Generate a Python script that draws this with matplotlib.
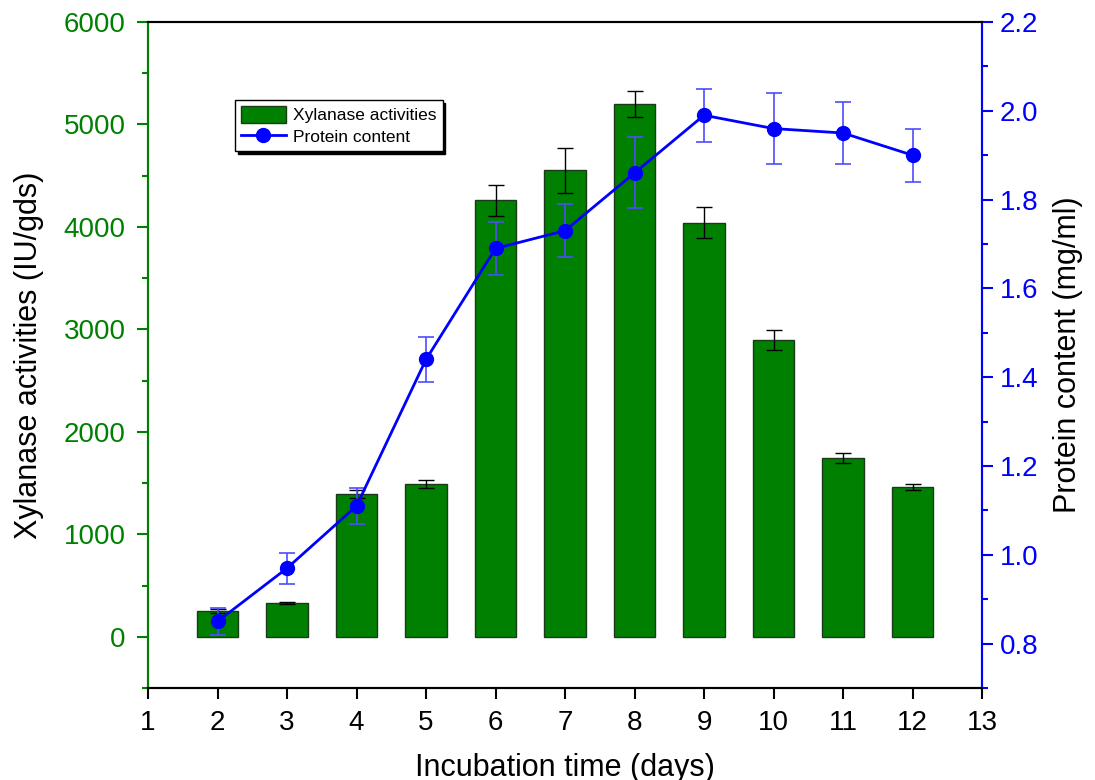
import matplotlib.pyplot as plt
from matplotlib.lines import Line2D
from matplotlib.ticker import MultipleLocator

plt.rcParams['font.family'] = ['Liberation Sans', 'DejaVu Sans']

# incubation days and measured values
days = [2, 3, 4, 5, 6, 7, 8, 9, 10, 11, 12]
xylanase = [250, 330, 1390, 1490, 4260, 4555, 5200, 4040, 2895, 1745, 1465]
xylanase_err = [20, 10, 40, 40, 150, 220, 130, 150, 100, 45, 30]
protein = [0.85, 0.97, 1.11, 1.44, 1.69, 1.73, 1.86, 1.99, 1.96, 1.95, 1.90]
protein_err = [0.03, 0.035, 0.04, 0.05, 0.06, 0.06, 0.08, 0.06, 0.08, 0.07, 0.06]

green = '#008000'
blue = '#0000FF'

fig = plt.figure(figsize=(10.95, 7.8), dpi=100)
ax = fig.add_axes([0.1352, 0.1179, 0.7616, 0.8539])
ax2 = ax.twinx()

bars = ax.bar(days, xylanase, width=0.6, color=green, edgecolor='#1a3a1a', linewidth=1,
              label='Xylanase activities', zorder=2)
ax.errorbar(days, xylanase, yerr=xylanase_err, fmt='none', ecolor='black', elinewidth=1,
            capsize=6, capthick=1, zorder=3)

ax2.errorbar(days, protein, yerr=protein_err, color=blue, marker='o', markersize=10,
             linewidth=2, ecolor='#4d4dff', elinewidth=1.2, capsize=6, capthick=1.2)

ax.set_xlim(1, 13)
ax.set_ylim(-500, 6000)
ax2.set_ylim(0.7, 2.2)
ax.set_xticks(range(1, 14))
ax.set_yticks(range(0, 6001, 1000))
ax.yaxis.set_minor_locator(MultipleLocator(500))
ax2.set_yticks([0.8, 1.0, 1.2, 1.4, 1.6, 1.8, 2.0, 2.2])
ax2.yaxis.set_minor_locator(MultipleLocator(0.1))

ax.tick_params(axis='both', which='major', labelsize=20, direction='out', length=8, width=1.5)
ax.tick_params(axis='x', pad=8)
ax.tick_params(axis='y', pad=8, colors=green)
ax.tick_params(axis='y', which='minor', length=4, width=1.5, colors=green)
ax2.tick_params(axis='y', which='major', labelsize=20, direction='out', length=8, width=1.5,
                pad=5, colors=blue)
ax2.tick_params(axis='y', which='minor', length=4, width=1.5, colors=blue)

for a in (ax, ax2):
    for s in a.spines.values():
        s.set_linewidth(1.5)
    a.spines['left'].set_color(green)
    a.spines['right'].set_color(blue)

ax.set_xlabel('Incubation time (days)', fontsize=22, labelpad=12)
ax.set_ylabel('Xylanase activities (IU/gds)', fontsize=22, labelpad=14)
ax2.set_ylabel('Protein content (mg/ml)', fontsize=22, labelpad=10)

protein_handle = Line2D([], [], color=blue, marker='o', markersize=10, linewidth=2)
leg = ax.legend([bars, protein_handle], ['Xylanase activities', 'Protein content'],
                loc='upper left', bbox_to_anchor=(0.104, 0.883), borderaxespad=0,
                fontsize=12.5, frameon=True, fancybox=False,
                shadow={'color': 'black', 'alpha': 1},
                borderpad=0.35, handlelength=2.6, handleheight=1.1,
                labelspacing=0.25, handletextpad=0.4)
leg.get_frame().set_edgecolor('black')
leg.get_frame().set_linewidth(1)

fig.savefig('out.png', dpi=100)
